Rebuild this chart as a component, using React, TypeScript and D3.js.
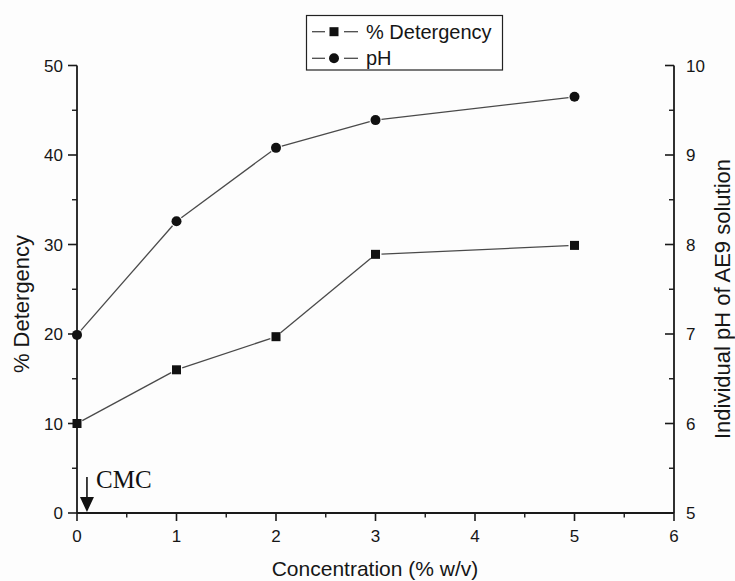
import React from "react";
import * as d3 from "d3";

const concentration = [0, 1, 2, 3, 5];
const detergency = [10.0, 16.0, 19.7, 28.9, 29.9];
const phValues = [6.99, 8.26, 9.08, 9.39, 9.65];
const xTicks = [0, 1, 2, 3, 4, 5, 6];
const yLeftTicks = [0, 10, 20, 30, 40, 50];
const yRightTicks = [5, 6, 7, 8, 9, 10];
const legendLabels = ["% Detergency", "pH"];
const cmcPosition = 0.1;

const W = 735;
const H = 581;
const SANS = "'Liberation Sans', Arial, Helvetica, sans-serif";
const SERIF = "'Liberation Serif', 'Times New Roman', serif";

export default function App() {
  const x = d3.scaleLinear().domain([0, 6]).range([77, 674]);
  const yL = d3.scaleLinear().domain([0, 50]).range([513, 65.5]);
  const yR = d3.scaleLinear().domain([5, 10]).range([513, 65.5]);

  const xMinor = d3.range(0.5, 6, 1);
  const yLMinor = d3.range(5, 50, 10);
  const yRMinor = d3.range(5.5, 10, 1);

  const gap = 6;
  const segments = (pts: [number, number][]) => {
    const out: React.ReactNode[] = [];
    for (let i = 0; i < pts.length - 1; i++) {
      const [x1, y1] = pts[i];
      const [x2, y2] = pts[i + 1];
      const dx = x2 - x1, dy = y2 - y1;
      const len = Math.hypot(dx, dy);
      const ux = dx / len, uy = dy / len;
      out.push(
        <line key={i} x1={x1 + ux * gap} y1={y1 + uy * gap} x2={x2 - ux * gap} y2={y2 - uy * gap}
          stroke="#4a4a4a" strokeWidth={1.3} />
      );
    }
    return out;
  };

  const detPts: [number, number][] = concentration.map((c, i) => [x(c), yL(detergency[i])]);
  const phPts: [number, number][] = concentration.map((c, i) => [x(c), yR(phValues[i])]);

  const sq = 9;
  const r = 5;
  const axisColor = "#1a1a1a";
  const textColor = "#161616";

  return (
    <svg width={W} height={H} style={{ position: "absolute", left: 0, top: 0, background: "#fff" }}>
      <rect x={0} y={0} width={W} height={H} fill="#fdfdfd" />
      <line x1={x(0)} y1={yL(0)} x2={x(0)} y2={yL(50)} stroke={axisColor} strokeWidth={1.8} />
      <line x1={x(0)} y1={yL(0)} x2={x(6)} y2={yL(0)} stroke={axisColor} strokeWidth={1.8} />
      <line x1={x(6)} y1={yR(5)} x2={x(6)} y2={yR(10)} stroke={axisColor} strokeWidth={1.8} />

      {xTicks.map((t) => (
        <g key={"xt" + t}>
          <line x1={x(t)} x2={x(t)} y1={yL(0)} y2={yL(0) + 8} stroke={axisColor} strokeWidth={1.6} />
          <text x={x(t)} y={542} textAnchor="middle" fontFamily={SANS} fontSize={17} fill={textColor}>{t}</text>
        </g>
      ))}
      {xMinor.map((t) => (
        <line key={"xm" + t} x1={x(t)} x2={x(t)} y1={yL(0)} y2={yL(0) + 4.5} stroke={axisColor} strokeWidth={1.4} />
      ))}

      {yLeftTicks.map((t) => (
        <g key={"yl" + t}>
          <line x1={x(0) - 9} x2={x(0)} y1={yL(t)} y2={yL(t)} stroke={axisColor} strokeWidth={1.6} />
          <text x={63} y={yL(t) + 6} textAnchor="end" fontFamily={SANS} fontSize={17} fill={textColor}>{t}</text>
        </g>
      ))}
      {yLMinor.map((t) => (
        <line key={"ylm" + t} x1={x(0) - 5} x2={x(0)} y1={yL(t)} y2={yL(t)} stroke={axisColor} strokeWidth={1.4} />
      ))}

      {yRightTicks.map((t) => (
        <g key={"yr" + t}>
          <line x1={x(6) - 9} x2={x(6)} y1={yR(t)} y2={yR(t)} stroke={axisColor} strokeWidth={1.6} />
          <text x={686} y={yR(t) + 6} textAnchor="start" fontFamily={SANS} fontSize={17} fill={textColor}>{t}</text>
        </g>
      ))}
      {yRMinor.map((t) => (
        <line key={"yrm" + t} x1={x(6) - 5} x2={x(6)} y1={yR(t)} y2={yR(t)} stroke={axisColor} strokeWidth={1.4} />
      ))}

      <text x={375} y={576} textAnchor="middle" fontFamily={SANS} fontSize={21} fill={textColor}>Concentration (% w/v)</text>
      <text transform={`translate(29,304) rotate(-90)`} textAnchor="middle" fontFamily={SANS} fontSize={22} fill={textColor}>% Detergency</text>
      <text transform={`translate(730,299) rotate(-90)`} textAnchor="middle" fontFamily={SANS} fontSize={22} fill={textColor}>Individual pH of AE9 solution</text>

      {segments(detPts)}
      {segments(phPts)}

      {detPts.map(([px, py], i) => (
        <rect key={"d" + i} x={px - sq / 2} y={py - sq / 2} width={sq} height={sq} fill="#111" />
      ))}
      {phPts.map(([px, py], i) => (
        <circle key={"p" + i} cx={px} cy={py} r={r} fill="#111" />
      ))}

      <line x1={x(cmcPosition)} x2={x(cmcPosition)} y1={477} y2={500} stroke="#111" strokeWidth={1.6} />
      <path d={`M${x(cmcPosition) - 7},${497} L${x(cmcPosition) + 7},${497} L${x(cmcPosition)},${512} Z`} fill="#111" />
      <text x={96} y={488} fontFamily={SERIF} fontSize={25} fill="#111">CMC</text>

      <rect x={306.5} y={15.5} width={196} height={54.5} fill="#fff" stroke="#222" strokeWidth={1.2} />
      {legendLabels.map((lab, i) => {
        const cy = i === 0 ? 31.7 : 58.3;
        return (
          <g key={"lg" + i}>
            <line x1={312} x2={325} y1={cy} y2={cy} stroke="#4a4a4a" strokeWidth={1.3} />
            <line x1={344} x2={358} y1={cy} y2={cy} stroke="#4a4a4a" strokeWidth={1.3} />
            {i === 0 ? (
              <rect x={334 - sq / 2} y={cy - sq / 2} width={sq} height={sq} fill="#111" />
            ) : (
              <circle cx={334} cy={cy} r={r} fill="#111" />
            )}
            <text x={366} y={cy + 7} fontFamily={SANS} fontSize={20} fill={textColor}>{lab}</text>
          </g>
        );
      })}
    </svg>
  );
}
